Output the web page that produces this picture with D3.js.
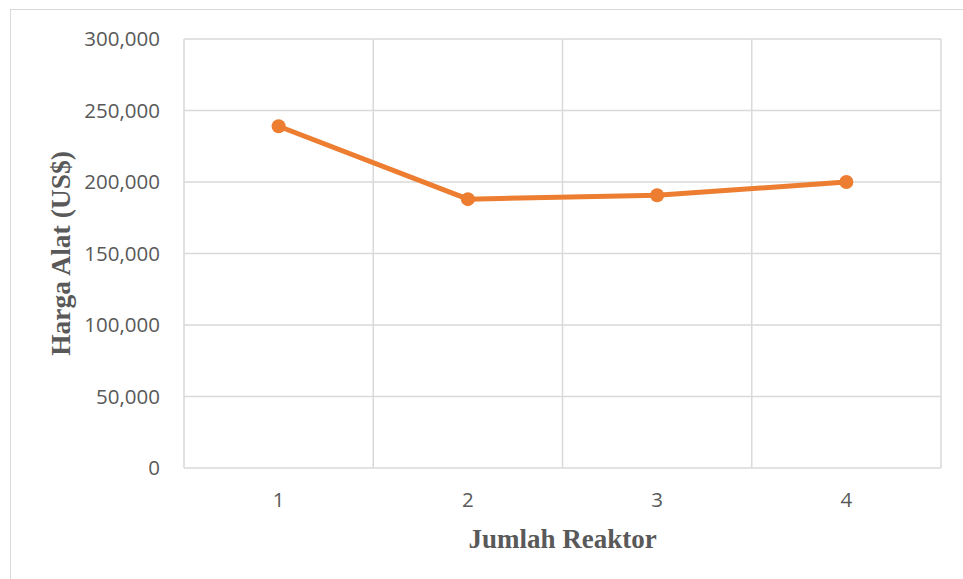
<!DOCTYPE html>
<html>
<head>
<meta charset="utf-8">
<script src="https://cdn.jsdelivr.net/npm/d3@7"></script>
<style>
  html, body { margin: 0; padding: 0; background: #fff; }
  svg { display: block; }
</style>
</head>
<body>
<svg id="chart" width="963" height="579"></svg>
<script>
// Equipment cost versus number of reactors
const reactors = [1, 2, 3, 4];
const hargaAlat = [239000, 188000, 190700, 200000];
const yTicks = [0, 50000, 100000, 150000, 200000, 250000, 300000];

const svg = d3.select("#chart");
const W = 963, H = 579;
const m = { left: 184, top: 39, right: 941, bottom: 468 };

// chart frame
svg.append("rect")
  .attr("x", 10.5).attr("y", 9.5)
  .attr("width", W).attr("height", H)
  .attr("fill", "#fff").attr("stroke", "#d9d9d9").attr("stroke-width", 1);

const x = d3.scaleBand().domain(reactors).range([m.left, m.right]).padding(0);
const y = d3.scaleLinear().domain([0, 300000]).range([m.bottom, m.top]);

const grid = svg.append("g");
// horizontal gridlines
grid.selectAll("line.h").data(yTicks).join("line")
  .attr("x1", m.left).attr("x2", m.right)
  .attr("y1", d => y(d)).attr("y2", d => y(d))
  .attr("stroke", "#d9d9d9").attr("stroke-width", 1.5);
// vertical gridlines at band edges
const edges = reactors.map(r => x(r)).concat([m.right]);
grid.selectAll("line.v").data(edges).join("line")
  .attr("x1", d => d).attr("x2", d => d)
  .attr("y1", m.top).attr("y2", m.bottom)
  .attr("stroke", "#d9d9d9").attr("stroke-width", 1.5);

// y axis labels
const yAxis = d3.axisLeft(y).tickValues(yTicks).tickSize(0).tickPadding(24)
  .tickFormat(d3.format(","));
const yg = svg.append("g").attr("transform", `translate(${m.left},0)`).call(yAxis);
yg.select(".domain").remove();
yg.selectAll("text").attr("fill", "#595959")
  .style("font-family", "'Open Sans', sans-serif").style("font-size", "20.5px");

// x axis labels
const xAxis = d3.axisBottom(x).tickSize(0).tickPadding(24);
const xg = svg.append("g").attr("transform", `translate(0,${m.bottom})`).call(xAxis);
xg.select(".domain").remove();
xg.selectAll("text").attr("fill", "#595959")
  .style("font-family", "'Open Sans', sans-serif").style("font-size", "20.5px");

// axis titles
svg.append("text")
  .attr("x", (m.left + m.right) / 2).attr("y", 548)
  .attr("text-anchor", "middle")
  .attr("fill", "#595959")
  .style("font-family", "'Liberation Serif', 'Times New Roman', serif")
  .style("font-weight", "bold").style("font-size", "27px")
  .text("Jumlah Reaktor");

svg.append("text")
  .attr("transform", `translate(70,${(m.top + m.bottom) / 2}) rotate(-90)`)
  .attr("text-anchor", "middle")
  .attr("fill", "#595959")
  .style("font-family", "'Liberation Serif', 'Times New Roman', serif")
  .style("font-weight", "bold").style("font-size", "27.5px")
  .text("Harga Alat (US$)");

// series
const cx = d => x(d) + x.bandwidth() / 2;
const line = d3.line().x((d, i) => cx(reactors[i])).y(d => y(d));
svg.append("path").datum(hargaAlat)
  .attr("d", line).attr("fill", "none")
  .attr("stroke", "#ED7D31").attr("stroke-width", 5)
  .attr("stroke-linejoin", "round").attr("stroke-linecap", "round");

svg.selectAll("circle.pt").data(hargaAlat).join("circle")
  .attr("cx", (d, i) => cx(reactors[i])).attr("cy", d => y(d))
  .attr("r", 7).attr("fill", "#ED7D31");
</script>
</body>
</html>
